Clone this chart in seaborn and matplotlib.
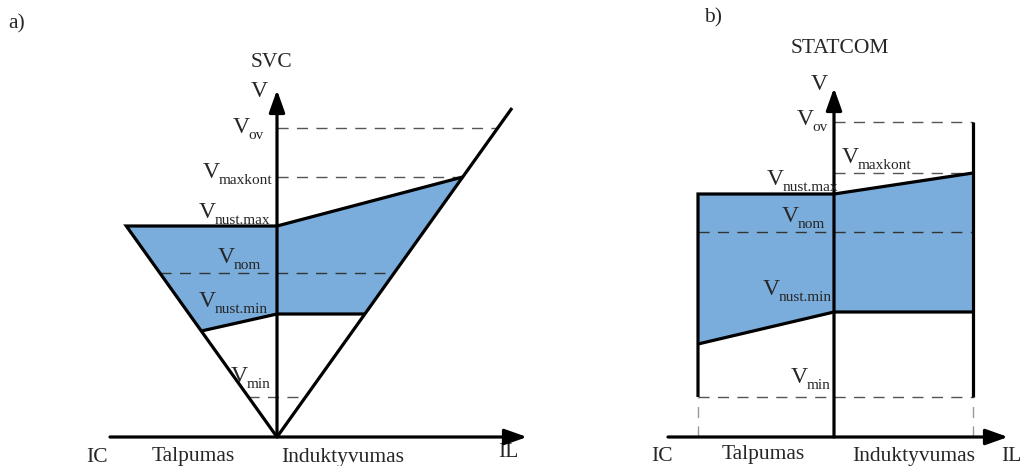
import matplotlib
matplotlib.use("Agg")
import matplotlib.pyplot as plt
import seaborn as sns

# ---- data: voltage levels (height above the current axis, drawing units) ----
level_names = ["ov", "maxkont", "nust.max", "nom", "nust.min", "min"]

# SVC
svc_levels = [309, 260, 211, 164, 123, 40]
svc_slope = 1.40        # V/I slope of the capacitive and inductive limit lines
svc_corner_low = 106    # voltage of the lower capacitive corner of the control range
svc_line_top = 329      # upper end of the inductive limit line

# STATCOM
stc_levels = [315, 264, 243, 205, 125, 40]
stc_ic_max = -136       # capacitive current limit
stc_il_max = 139        # inductive current limit
stc_corner_low = 93     # voltage at the capacitive limit on the lower range edge

# ---- style ----
sns.set_theme(style="white")
plt.rcParams["font.family"] = ["Liberation Serif", "DejaVu Serif"]

BLUE = "#7aaddc"
DASH = "#555555"
LW = 2.3
FS_V = 17
FS_SUB = 11
FS_AX = 15.5

W, H = 1023, 466
fig = plt.figure(figsize=(W / 100, H / 100), dpi=100)


def make_axes(ox, oy):
    ax = fig.add_axes([0, 0, 1, 1])
    ax.set_xlim(-ox, W - ox)
    ax.set_ylim(-(H - oy), oy)
    ax.set_axis_off()
    ax.patch.set_alpha(0)
    return ax


def solid(ax, xs, ys):
    sns.lineplot(x=xs, y=ys, ax=ax, sort=False, estimator=None, color="black",
                 lw=LW, solid_joinstyle="miter", solid_capstyle="butt", zorder=4)


def dashed(ax, xs, ys, color=DASH, lw=1.0):
    ax.plot(xs, ys, color=color, lw=lw, dashes=(8, 6), zorder=3)


def arrow_axes(ax, x0, x1, y1):
    props = dict(arrowstyle="-|>,head_length=0.9,head_width=0.32", color="black",
                 lw=LW, mutation_scale=15, shrinkA=0, shrinkB=0)
    ax.annotate("", xy=(x1, 0), xytext=(x0, 0), arrowprops=props, zorder=5)
    ax.annotate("", xy=(0, y1), xytext=(0, 0), arrowprops=props, zorder=5)


def vlabel(ax, name, x, y):
    """'V' with a lowered subscript; (x, y) is the left end of the V baseline."""
    ax.text(x, y, "V", ha="left", va="baseline", fontsize=FS_V, zorder=6)
    ax.annotate(name, xy=(x, y), xytext=(11.2, -4.3), textcoords="offset points",
                ha="left", va="baseline", fontsize=FS_SUB, zorder=6)


# ================= a) SVC =================
ax = make_axes(277, 437)
lv = dict(zip(level_names, svc_levels))
cap = lambda v: -v / svc_slope
ind = lambda v: v / svc_slope

poly_x = [cap(lv["nust.max"]), 0, ind(lv["maxkont"]), ind(lv["nust.min"]), 0, cap(svc_corner_low)]
poly_y = [lv["nust.max"], lv["nust.max"], lv["maxkont"], lv["nust.min"], lv["nust.min"], svc_corner_low]
ax.fill(poly_x, poly_y, color=BLUE, lw=0, zorder=1)

dashed(ax, [0, ind(lv["ov"])], [lv["ov"]] * 2)
dashed(ax, [0, ind(lv["maxkont"])], [lv["maxkont"]] * 2)
dashed(ax, [cap(lv["nom"]), ind(lv["nom"])], [lv["nom"]] * 2, color="#333333")
dashed(ax, [cap(lv["min"]), ind(lv["min"])], [lv["min"]] * 2)

solid(ax, [0, cap(lv["nust.max"]), 0, ind(lv["maxkont"])],
      [0, lv["nust.max"], lv["nust.max"], lv["maxkont"]])
solid(ax, [0, ind(svc_line_top)], [0, svc_line_top])
solid(ax, [cap(svc_corner_low), 0, ind(lv["nust.min"])],
      [svc_corner_low, lv["nust.min"], lv["nust.min"]])
arrow_axes(ax, -167, 250, 347)

svc_label_pos = {"ov": (-44, 304), "maxkont": (-74, 259), "nust.max": (-78, 219),
                 "nom": (-59, 174), "nust.min": (-78, 130), "min": (-46, 55)}
for n in level_names:
    vlabel(ax, n, *svc_label_pos[n])
ax.text(-18, 340, "V", ha="center", va="baseline", fontsize=FS_V)
ax.text(-5, 370, "SVC", ha="center", va="baseline", fontsize=FS_AX)
ax.text(-260, 409, "a)", ha="center", va="baseline", fontsize=FS_AX)
ax.text(-180, -25, "IC", ha="center", va="baseline", fontsize=FS_AX)
ax.text(-84, -24, "Talpumas", ha="center", va="baseline", fontsize=FS_AX)
ax.text(66, -25, "Induktyvumas", ha="center", va="baseline", fontsize=FS_AX)
ax.text(231, -20, "IL", ha="center", va="baseline", fontsize=FS_AX)

# ================= b) STATCOM =================
bx = make_axes(834, 437)
lv = dict(zip(level_names, stc_levels))

poly_x = [stc_ic_max, 0, stc_il_max, stc_il_max, 0, stc_ic_max]
poly_y = [lv["nust.max"], lv["nust.max"], lv["maxkont"], lv["nust.min"], lv["nust.min"], stc_corner_low]
bx.fill(poly_x, poly_y, color=BLUE, lw=0, zorder=1)

dashed(bx, [0, stc_il_max], [lv["ov"]] * 2)
dashed(bx, [0, stc_il_max], [lv["maxkont"]] * 2)
dashed(bx, [stc_ic_max, stc_il_max], [lv["nom"]] * 2, color="#333333")
dashed(bx, [stc_ic_max, stc_il_max], [lv["min"]] * 2)
dashed(bx, [stc_ic_max] * 2, [0, lv["min"]], color="#999999")
dashed(bx, [stc_il_max] * 2, [0, lv["min"]], color="#999999")

solid(bx, [stc_ic_max, stc_ic_max, 0, stc_il_max],
      [lv["min"], lv["nust.max"], lv["nust.max"], lv["maxkont"]])
solid(bx, [stc_il_max, stc_il_max], [lv["min"], lv["ov"]])
solid(bx, [stc_ic_max, 0, stc_il_max], [stc_corner_low, lv["nust.min"], lv["nust.min"]])
arrow_axes(bx, -166, 174, 349)

stc_label_pos = {"ov": (-37, 312), "maxkont": (8, 274), "nust.max": (-67, 252),
                 "nom": (-52, 215), "nust.min": (-71, 142), "min": (-43, 54)}
for n in level_names:
    vlabel(bx, n, *stc_label_pos[n])
bx.text(-15, 347, "V", ha="center", va="baseline", fontsize=FS_V)
bx.text(6, 384, "STATCOM", ha="center", va="baseline", fontsize=FS_AX)
bx.text(-121, 415, "b)", ha="center", va="baseline", fontsize=FS_AX)
bx.text(-172, -24, "IC", ha="center", va="baseline", fontsize=FS_AX)
bx.text(-71, -22, "Talpumas", ha="center", va="baseline", fontsize=FS_AX)
bx.text(80, -24, "Induktyvumas", ha="center", va="baseline", fontsize=FS_AX)
bx.text(177, -24, "IL", ha="center", va="baseline", fontsize=FS_AX)

fig.savefig("out.png", dpi=100)
